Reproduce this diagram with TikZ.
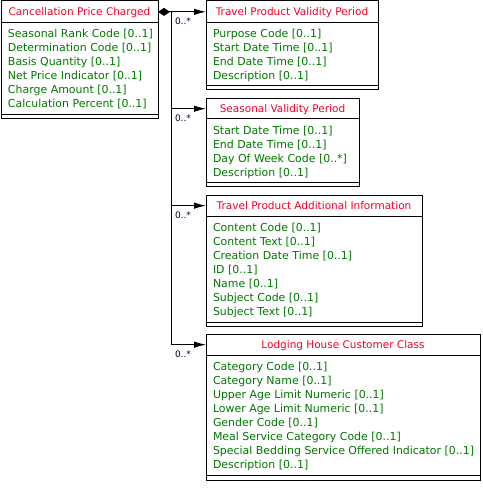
\documentclass[tikz,border=0pt]{standalone}
\usepackage{fontspec}
\setmainfont{DejaVu Sans}
\usetikzlibrary{arrows.meta}
\definecolor{ttl}{RGB}{240,0,40}
\definecolor{att}{RGB}{0,120,0}
\definecolor{mlt}{RGB}{0,0,30}
\begin{document}
\begin{tikzpicture}[x=1pt,y=-1pt,
  every node/.style={inner sep=0pt, outer sep=0pt},
  hdr/.style={draw, line width=1pt, anchor=north west, text=ttl,
    font=\fontsize{10.5}{14}\selectfont, text height=8pt, text depth=0pt},
  bodyb/.style={draw, line width=1pt, anchor=north west},
  attr/.style={anchor=north west, align=left, text=att,
    font=\fontsize{10.95}{14}\selectfont},
  mult/.style={anchor=west, text=mlt, font=\fontsize{9}{10}\selectfont},
  conn/.style={line width=1pt, line cap=butt},
  tip/.style={-{Latex[length=12pt,width=6.5pt]}}
]
\useasboundingbox (0,0) rectangle (482,494);
% Class 1
\node[hdr, minimum width=157pt, minimum height=21.7pt] (h1) at (1,1) {Cancellation Price Charged};
\node[bodyb, minimum width=157pt, minimum height=91.6pt] (b1) at (h1.south west) {};
\node[bodyb, minimum width=157pt, minimum height=4pt] (f1) at (b1.south west) {};
\node[attr] (a1) at (8,28.5) {\rule{0pt}{9pt}Seasonal Rank Code [0..1]\\Determination Code [0..1]\\Basis Quantity [0..1]\\Net Price Indicator [0..1]\\Charge Amount [0..1]\\Calculation Percent [0..1]};
% Class 2
\node[hdr, minimum width=172pt, minimum height=21.7pt] (h2) at (206,1) {Travel Product Validity Period};
\node[bodyb, minimum width=172pt, minimum height=63.3pt] (b2) at (h2.south west) {};
\node[bodyb, minimum width=172pt, minimum height=4pt] (f2) at (b2.south west) {};
\node[attr] (a2) at (213,28.5) {\rule{0pt}{9pt}Purpose Code [0..1]\\Start Date Time [0..1]\\End Date Time [0..1]\\Description [0..1]};
% Class 3
\node[hdr, minimum width=153pt, minimum height=20pt] (h3) at (206,98.7) {Seasonal Validity Period};
\node[bodyb, minimum width=153pt, minimum height=64pt] (b3) at (h3.south west) {};
\node[bodyb, minimum width=153pt, minimum height=4pt] (f3) at (b3.south west) {};
\node[attr] (a3) at (213,125.5) {\rule{0pt}{9pt}Start Date Time [0..1]\\End Date Time [0..1]\\Day Of Week Code [0..*]\\Description [0..1]};
% Class 4
\node[hdr, minimum width=216pt, minimum height=20.7pt] (h4) at (206,195.3) {Travel Product Additional Information};
\node[bodyb, minimum width=216pt, minimum height=106.7pt] (b4) at (h4.south west) {};
\node[bodyb, minimum width=216pt, minimum height=4pt] (f4) at (b4.south west) {};
\node[attr] (a4) at (213,222.8) {\rule{0pt}{9pt}Content Code [0..1]\\Content Text [0..1]\\Creation Date Time [0..1]\\ID [0..1]\\Name [0..1]\\Subject Code [0..1]\\Subject Text [0..1]};
% Class 5
\node[hdr, minimum width=274pt, minimum height=20.7pt] (h5) at (206,334.3) {Lodging House Customer Class};
\node[bodyb, minimum width=274pt, minimum height=120.7pt] (b5) at (h5.south west) {};
\node[bodyb, minimum width=274pt, minimum height=4.3pt] (f5) at (b5.south west) {};
\node[attr] (a5) at (213,361.5) {\rule{0pt}{9pt}Category Code [0..1]\\Category Name [0..1]\\Upper Age Limit Numeric [0..1]\\Lower Age Limit Numeric [0..1]\\Gender Code [0..1]\\Meal Service Category Code [0..1]\\Special Bedding Service Offered Indicator [0..1]\\Description [0..1]};
% Connectors
\coordinate (j) at ([xshift=13pt]h1.east);
\draw[conn, {Diamond[length=12pt,width=8pt]}-{Latex[length=12pt,width=6.5pt]}] (h1.east) -- (h2.west);
\draw[conn, tip] (j) |- (h3.west);
\draw[conn, tip] (j) |- (h4.west);
\draw[conn, tip] (j) |- (h5.west);
% Multiplicities
\node[mult] (m2) at ([xshift=4pt,yshift=-9.7pt]j |- h2.west) {0..*};
\node[mult] (m3) at ([xshift=4pt,yshift=-9.7pt]j |- h3.west) {0..*};
\node[mult] (m4) at ([xshift=4pt,yshift=-9.7pt]j |- h4.west) {0..*};
\node[mult] (m5) at ([xshift=4pt,yshift=-9.7pt]j |- h5.west) {0..*};
\end{tikzpicture}
\end{document}
